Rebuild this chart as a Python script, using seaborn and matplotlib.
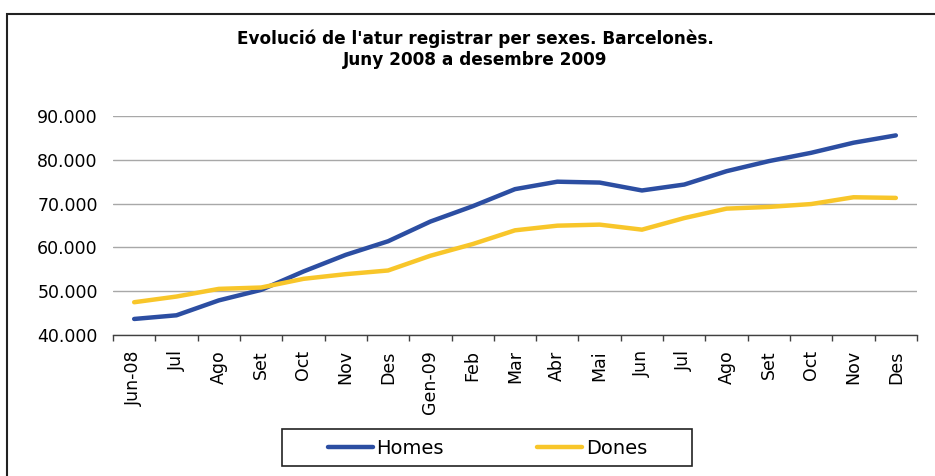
import pandas as pd
import numpy as np
import matplotlib
matplotlib.use("Agg")
import matplotlib.pyplot as plt
import seaborn as sns
from matplotlib.ticker import FuncFormatter, FixedLocator
from matplotlib.patches import Rectangle
from matplotlib.lines import Line2D

# ========== DATA ==========
months = ["Jun-08", "Jul", "Ago", "Set", "Oct", "Nov", "Des", "Gen-09", "Feb", "Mar",
          "Abr", "Mai", "Jun", "Jul", "Ago", "Set", "Oct", "Nov", "Des"]
homes = [43660, 44500, 47900, 50300, 54500, 58300, 61400, 65900, 69400, 73300,
         75000, 74800, 73000, 74350, 77400, 79700, 81600, 83900, 85570]
dones = [47480, 48780, 50530, 50840, 52820, 53890, 54730, 58090, 60760, 63900,
         64960, 65200, 64050, 66700, 68850, 69240, 69900, 71450, 71300]
series = ["Homes", "Dones"]
colors = {"Homes": "#2C4EA2", "Dones": "#F8C62A"}

df = pd.DataFrame({
    "pos": list(range(len(months))) * 2,
    "valor": homes + dones,
    "serie": ["Homes"] * len(homes) + ["Dones"] * len(dones),
})

# ========== STYLE ==========
sns.set_style("white")
plt.rcParams["font.family"] = ["DejaVu Sans"]
plt.rcParams["text.color"] = "black"
plt.rcParams["xtick.color"] = "black"
plt.rcParams["ytick.color"] = "black"

fig = plt.figure(figsize=(9.35, 4.76), dpi=100)
ax = fig.add_axes([113 / 935, 1 - 335 / 476, (917 - 113) / 935, (335 - 116) / 476])

sns.lineplot(data=df, x="pos", y="valor", hue="serie", hue_order=series,
             palette=colors, linewidth=3.2, ax=ax, legend=False,
             solid_capstyle="round", solid_joinstyle="round")

ax.set_xlim(-0.5, len(months) - 0.5)
ax.set_ylim(40000, 90000)
ax.set_yticks(range(40000, 90001, 10000))
ax.yaxis.set_major_formatter(FuncFormatter(lambda v, p: f"{int(v):,}".replace(",", ".")))
ax.grid(axis="y", color="#A8A8A8", linewidth=1)
ax.set_axisbelow(True)

ax.set_xticks(range(len(months)))
ax.set_xticklabels(months, rotation=90)
ax.xaxis.set_minor_locator(FixedLocator(np.arange(-0.5, len(months), 1.0)))
ax.tick_params(axis="x", which="major", length=0, pad=11, labelsize=12.5, labelcolor="black")
ax.tick_params(axis="x", which="minor", length=4, width=1, color="#404040", bottom=True)
ax.tick_params(axis="y", length=0, pad=11, labelsize=12.5, labelcolor="black")
ax.set_xlabel("")
ax.set_ylabel("")

for s in ["left", "right", "top"]:
    ax.spines[s].set_visible(False)
ax.spines["bottom"].set_color("#404040")
ax.spines["bottom"].set_linewidth(1)

# ========== TITLE ==========
fig.text(475 / 935, 1 - 39 / 476, "Evolució de l'atur registrar per sexes. Barcelonès.",
         ha="center", va="center", fontsize=12.2, fontweight="bold", color="black")
fig.text(475 / 935, 1 - 60 / 476, "Juny 2008 a desembre 2009",
         ha="center", va="center", fontsize=12.2, fontweight="bold", color="black")

# ========== LEGEND ==========
handles = [Line2D([0], [0], color=colors[s], linewidth=3.2, solid_capstyle="round") for s in series]
leg = fig.legend(handles, series, loc="center", bbox_to_anchor=(487.5 / 935, 1 - 448 / 476),
                 ncol=2, frameon=False, fontsize=14, handlelength=2.3, handletextpad=0.2,
                 columnspacing=4.8)
for t in leg.get_texts():
    t.set_color("black")
fig.patches.append(Rectangle((282 / 935, 1 - 466 / 476), 410 / 935, 37 / 476,
                             transform=fig.transFigure, fill=False,
                             edgecolor="#222222", linewidth=1.2))

# outer frame of the chart area
fig.patches.append(Rectangle((7 / 935, -0.05), 1.0, 1.05 - 14 / 476,
                             transform=fig.transFigure, fill=False,
                             edgecolor="#222222", linewidth=1.5))

plt.savefig("out.png", dpi=100)
plt.close()
